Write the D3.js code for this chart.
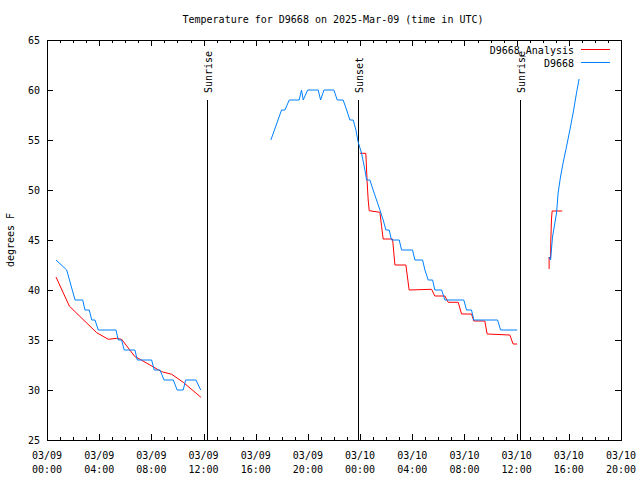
<!DOCTYPE html>
<html>
<head>
<meta charset="utf-8">
<script src="https://cdn.jsdelivr.net/npm/d3@7"></script>
<style>
  body { margin: 0; background: #fff; }
  text { font-family: "DejaVu Sans Mono", monospace; font-size: 10px; fill: #000; }
</style>
</head>
<body>
<div id="chart"></div>
<script>
// hours since 2025-03-09 00:00 UTC, temperature (F)
const stationSegments = [
  [[0.69,43],[1.51,42],[2.15,39],[2.74,39],[2.91,38],[3.24,38],[3.43,37],[3.68,37],[3.93,36],[5.29,36],
   [5.46,35],[5.72,35],[5.92,34],[6.74,34],[6.92,33],[8.02,33],[8.22,32],[8.66,32],[8.97,31],[9.68,31],
   [9.98,30],[10.44,30],[10.63,31],[11.42,31],[11.78,30]],
  [[17.16,55],[17.98,58],[18.24,58],[18.57,59],[19.33,59],[19.51,60],[19.64,59],[19.98,60],[20.79,60],
   [20.97,59],[21.23,60],[21.99,60],[22.25,59],[22.7,59],[22.97,58],[23.22,57],[23.47,57],[23.68,56],
   [23.85,54.8],[24.11,53.7],[24.37,52],[24.5,51],[24.75,51],[25.0,50],[25.26,49],[25.52,48],[25.77,47],
   [25.98,46],[26.23,46],[26.41,45],[27.0,45],[27.18,44],[28.02,44],[28.2,43],[28.79,43],[28.97,42],
   [29.22,41],[29.56,41],[29.73,40],[30.25,40],[30.5,39],[31.95,39],[32.16,38],[32.54,38],[32.72,37],
   [34.54,37],[34.77,36],[36.04,36]],
  [[38.49,43.3],[38.6,43],[38.75,45.3],[39.06,47.7],[39.18,49.7],[39.36,51.3],[39.56,52.7],[39.77,54],
   [40.08,56],[40.33,57.7],[40.59,59.7],[40.79,61.1]]
];

const analysisSegments = [
  [[0.69,41.3],[1.71,38.4],[2.15,37.83],[3.81,35.73],[4.7,35.07],[5.34,35.17],[5.72,35.07],[6.74,33.33],
   [7.13,33.07],[7.89,32.5],[8.79,31.83],[9.56,31.57],[10.44,30.77],[11.8,29.27]],
  [[23.98,53.67],[24.44,53.67],[24.54,50.83],[24.62,49],[24.7,47.93],[25.52,47.77],[25.65,46.33],
   [25.77,45.1],[26.49,45.1],[26.67,42.5],[27.51,42.5],[27.76,40],[29.48,40.07],[29.73,39.4],[30.5,39.4],
   [30.75,38.77],[31.52,38.77],[31.78,37.6],[32.54,37.6],[32.72,36.9],[33.56,36.9],[33.74,35.6],
   [35.48,35.5],[35.73,34.6],[36.04,34.6]],
  [[38.49,42.1],[38.49,43.3],[38.6,43.1],[38.62,45],[38.67,47],[38.72,47.9],[39.49,47.9]]
];

const eventNames = ['Sunrise', 'Sunset', 'Sunrise'];
const eventHours = [12.3, 23.84, 36.28];
const eventTop = 59;

const seriesNames = ['D9668_Analysis', 'D9668'];
const seriesColors = ['#ff0000', '#0080ff'];

const yTicks = [25, 30, 35, 40, 45, 50, 55, 60, 65];

const margin = {top: 40, right: 19, bottom: 40, left: 47},
      svgWidth = 640,
      svgHeight = 480,
      width = svgWidth - margin.left - margin.right,
      height = svgHeight - margin.top - margin.bottom;

const base = Date.UTC(2025, 2, 9, 0, 0);
const toDate = h => new Date(base + h * 3600e3);

const svg = d3.select('#chart')
    .append('svg')
    .attr('width', svgWidth)
    .attr('height', svgHeight);

svg.append('text')
    .attr('x', 333)
    .attr('y', 23)
    .attr('text-anchor', 'middle')
    .text('Temperature for D9668 on 2025-Mar-09 (time in UTC)');

const g = svg.append('g')
    .attr('transform', `translate(${margin.left}, ${margin.top})`);

const xScale = d3.scaleUtc().domain([toDate(0), toDate(44)]).range([0, width]);
const yScale = d3.scaleLinear().domain([25, 65]).range([height, 0]);

const majorX = d3.utcHour.every(4).range(toDate(0), toDate(44.01));
const minorX = d3.utcHour.every(1).range(toDate(0), toDate(44.01));

// ticks
const tickG = g.append('g').attr('stroke', '#000').attr('shape-rendering', 'crispEdges');
minorX.forEach(d => {
    const x = Math.round(xScale(d)) + 0.5;
    tickG.append('line').attr('x1', x).attr('x2', x).attr('y1', height).attr('y2', height - 3);
    tickG.append('line').attr('x1', x).attr('x2', x).attr('y1', 0).attr('y2', 3);
});
majorX.forEach(d => {
    const x = Math.round(xScale(d)) + 0.5;
    tickG.append('line').attr('x1', x).attr('x2', x).attr('y1', height).attr('y2', height - 6);
    tickG.append('line').attr('x1', x).attr('x2', x).attr('y1', 0).attr('y2', 6);
});
yTicks.forEach(v => {
    const y = Math.round(yScale(v)) + 0.5;
    tickG.append('line').attr('x1', 0).attr('x2', 6).attr('y1', y).attr('y2', y);
    tickG.append('line').attr('x1', width).attr('x2', width - 6).attr('y1', y).attr('y2', y);
});

// tick labels
const fmtDay = d3.utcFormat('%m/%d'), fmtTime = d3.utcFormat('%H:%M');
majorX.forEach(d => {
    const x = xScale(d);
    g.append('text').attr('x', x).attr('y', height + 19).attr('text-anchor', 'middle').text(fmtDay(d));
    g.append('text').attr('x', x).attr('y', height + 33).attr('text-anchor', 'middle').text(fmtTime(d));
});
yTicks.forEach(v => {
    g.append('text').attr('x', -7).attr('y', yScale(v) + 4).attr('text-anchor', 'end').text(v);
});

svg.append('text')
    .attr('transform', 'translate(14, 240) rotate(-90)')
    .attr('text-anchor', 'middle')
    .text('degrees F');

// sunrise / sunset markers
eventHours.forEach((h, i) => {
    const x = Math.round(xScale(toDate(h))) + 0.5;
    g.append('line')
        .attr('x1', x).attr('x2', x)
        .attr('y1', yScale(eventTop)).attr('y2', height)
        .attr('stroke', '#000')
        .attr('shape-rendering', 'crispEdges');
    g.append('text')
        .attr('transform', `translate(${x + 4.5}, ${yScale(eventTop) - 7}) rotate(-90)`)
        .text(eventNames[i]);
});

// data lines
const line = d3.line()
    .x(d => xScale(toDate(d[0])))
    .y(d => yScale(d[1]));

[analysisSegments, stationSegments].forEach((segs, i) => {
    segs.forEach(seg => {
        g.append('path')
            .datum(seg)
            .attr('fill', 'none')
            .attr('stroke', seriesColors[i])
            .attr('stroke-width', 1)
            .attr('d', line);
    });
});

// border
g.append('rect')
    .attr('x', 0.5).attr('y', 0.5)
    .attr('width', width).attr('height', height)
    .attr('fill', 'none')
    .attr('stroke', '#000')
    .attr('shape-rendering', 'crispEdges');

// legend
seriesNames.forEach((name, i) => {
    const y = 9.5 + i * 13;
    g.append('text').attr('x', width - 47).attr('y', y + 4).attr('text-anchor', 'end').text(name);
    g.append('line')
        .attr('x1', width - 40).attr('x2', width - 11)
        .attr('y1', y).attr('y2', y)
        .attr('stroke', seriesColors[i])
        .attr('shape-rendering', 'crispEdges');
});
</script>
</body>
</html>
